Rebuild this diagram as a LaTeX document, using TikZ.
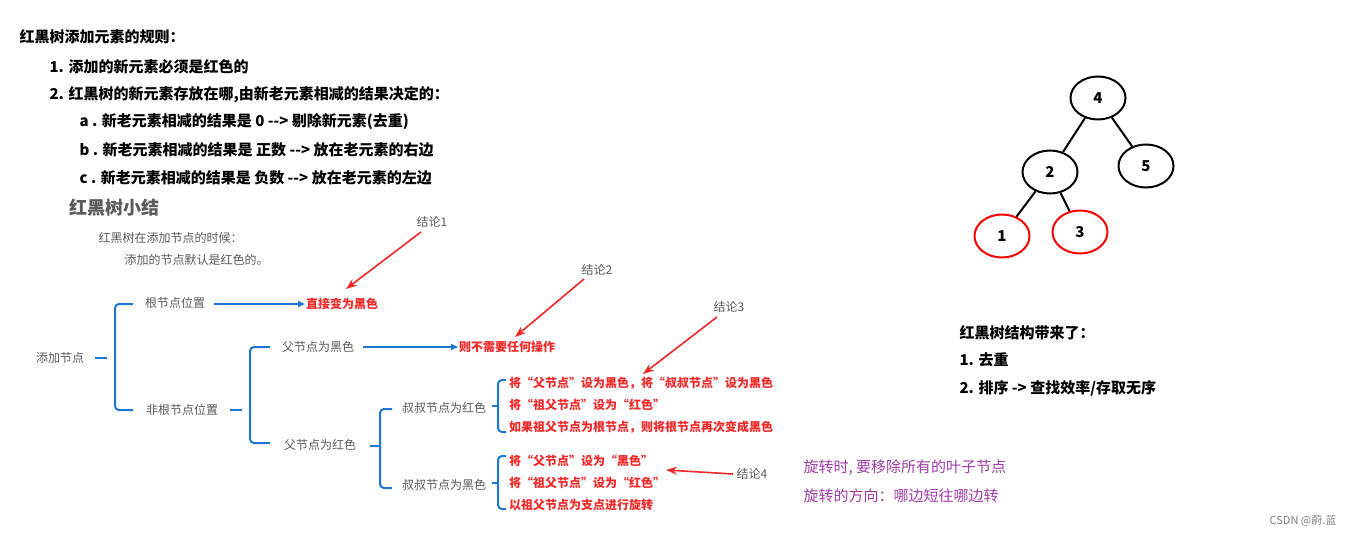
\documentclass[tikz,border=0pt]{standalone}
\usepackage{fontspec}
\setmainfont{Noto Sans CJK SC}
\usetikzlibrary{positioning, arrows.meta, shapes.geometric}
\definecolor{mmblue}{RGB}{30,120,210}
\definecolor{mmred}{RGB}{240,40,40}
\definecolor{mmgray}{RGB}{90,90,90}
\definecolor{mmpurple}{RGB}{160,60,170}
\tikzset{
    head/.style={anchor=west, font=\bfseries\fontsize{15}{17}\selectfont},
    gray text/.style={text=mmgray, font=\fontsize{12}{14}\selectfont},
    red text/.style={anchor=west, text=mmred, font=\bfseries\fontsize{12}{14}\selectfont, inner sep=1pt},
    brace/.style={draw=mmblue, line width=2pt, rounded corners=4pt},
    blue arrow/.style={draw=mmblue, line width=2pt, -{Triangle[length=7pt,width=6pt]}},
    red arrow/.style={draw=mmred, line width=1.6pt, -{Stealth[length=11pt,width=8pt]}},
    treenode/.style={ellipse, draw, line width=2pt, minimum width=55pt, minimum height=43pt, font=\bfseries\fontsize{15}{17}\selectfont},
    rednode/.style={treenode, draw=red},
}
\begin{document}
\begin{tikzpicture}[x=1pt, y=-1pt]
    \useasboundingbox (0,0) rectangle (1359,537);

    % rules
    \node[head] (Rules) at (16,37) {红黑树添加元素的规则：};
    \node[head] (Rule 1) at (46,67) {1. 添加的新元素必须是红色的};
    \node[head] (Rule 2) at (46,95) {2. 红黑树的新元素存放在哪,由新老元素相减的结果决定的：};
    \node[head] (Rule a) at (76,122) {a . 新老元素相减的结果是 0 {-}{-}> 剔除新元素(去重)};
    \node[head] (Rule b) at (76,150) {b . 新老元素相减的结果是 正数 {-}{-}> 放在老元素的右边};
    \node[head] (Rule c) at (76,178) {c . 新老元素相减的结果是 负数 {-}{-}> 放在老元素的左边};

    % summary
    \node[anchor=west, text=mmgray, font=\bfseries\fontsize{18}{20}\selectfont] (Summary) at (66,208) {红黑树小结};
    \node[gray text, anchor=west] (Note 1) at (95,238) {红黑树在添加节点的时候：};
    \node[gray text, anchor=west] (Note 2) at (121,260) {添加的节点默认是红色的。};

    \node[gray text] (Add) at (60,358) {添加节点};
    \draw[brace] (95,358) -- (107,358);
    \draw[brace] (133,304) -- (115,304) -- (115,410) -- (133,410);

    \node[gray text] (Root) at (175,303) {根节点位置};
    \node[red text] (Root res) at (305,304) {直接变为黑色};
    \draw[blue arrow] (Root.east) ++(5,1) -- (Root res.west);

    \node[gray text] (Nonroot) at (182,410) {非根节点位置};
    \draw[brace] (230,410) -- (242,410);
    \draw[brace] (270,347) -- (250,347) -- (250,443) -- (270,443);

    \node[gray text] (Pblack) at (318,347) {父节点为黑色};
    \node[red text] (Pblack res) at (458,347) {则不需要任何操作};
    \draw[blue arrow] (Pblack.east) ++(5,0) -- (Pblack res.west);

    \node[gray text] (Pred) at (320,445) {父节点为红色};
    \draw[brace] (370,446) -- (380,446);
    \draw[brace] (392,409) -- (380,409) -- (380,488) -- (392,488);

    \node[gray text] (Ured) at (444,408) {叔叔节点为红色};
    \draw[brace] (492,406) -- (498,406);
    \draw[brace] (506,380) -- (498,380) -- (498,432) -- (506,432);
    \node[red text] (Ured 1) at (508,383) {将“父节点”设为黑色，将“叔叔节点”设为黑色};
    \node[red text] (Ured 2) at (508,405) {将“祖父节点”设为“红色”};
    \node[red text] (Ured 3) at (508,427) {如果祖父节点为根节点，则将根节点再次变成黑色};

    \node[gray text] (Ublack) at (444,485) {叔叔节点为黑色};
    \draw[brace] (492,483) -- (498,483);
    \draw[brace] (506,456) -- (498,456) -- (498,509) -- (506,509);
    \node[red text] (Ublack 1) at (508,461) {将“父节点”设为“黑色”};
    \node[red text] (Ublack 2) at (508,483) {将“祖父节点”设为“红色”};
    \node[red text] (Ublack 3) at (508,505) {以祖父节点为支点进行旋转};

    % conclusions
    \node[gray text] (Con 1) at (432,222) {结论1};
    \node[gray text] (Con 2) at (597,270) {结论2};
    \node[gray text] (Con 3) at (729,307) {结论3};
    \node[gray text] (Con 4) at (752,474) {结论4};
    \coordinate (Tip 1) at (346,289);
    \coordinate (Tip 2) at (515,337);
    \coordinate (Tip 3) at (643,374);
    \coordinate (Tip 4) at (666,470);
    \draw[red arrow] (421,232) -- (Tip 1);
    \draw[red arrow] (584,279) -- (Tip 2);
    \draw[red arrow] (717,317) -- (Tip 3);
    \draw[red arrow] (Con 4.west) -- (Tip 4);

    \node[anchor=west, text=mmpurple, font=\fontsize{15}{17}\selectfont] (Rot 1) at (800,468) {旋转时, 要移除所有的叶子节点};
    \node[anchor=west, text=mmpurple, font=\fontsize{15}{17}\selectfont] (Rot 2) at (800,496) {旋转的方向：哪边短往哪边转};

    % tree
    \node[treenode] (N4) at (1098,98) {4};
    \node[treenode] (N2) at (1050,172) {2};
    \node[treenode] (N5) at (1146,166) {5};
    \node[rednode] (N1) at (1002,236) {1};
    \node[rednode] (N3) at (1080,232) {3};
    \draw[line width=2pt] (N4) -- (N2) (N4) -- (N5) (N2) -- (N1) (N2) -- (N3);

    \node[head] (Brings) at (956,333) {红黑树结构带来了：};
    \node[head] (Bring 1) at (956,360) {1. 去重};
    \node[head] (Bring 2) at (956,388) {2. 排序 -> 查找效率/存取无序};

    \node[text=gray, font=\fontsize{11}{13}\selectfont] (Mark) at (1303,521) {CSDN @蔚.蓝};
\end{tikzpicture}
\end{document}
